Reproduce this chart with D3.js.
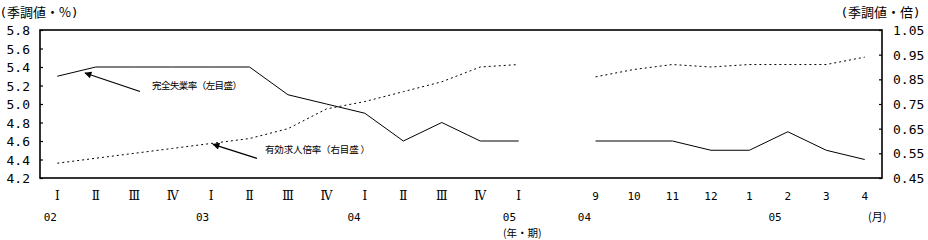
<!DOCTYPE html>
<html>
<head>
<meta charset="utf-8">
<script src="https://cdn.jsdelivr.net/npm/d3@7/dist/d3.min.js"></script>
<style>
  html, body { margin: 0; padding: 0; background: #fff; }
  svg { display: block; }
  text { fill: #000; }
</style>
</head>
<body>
<svg id="chart" width="928" height="240"></svg>
<script>
// ---- data ----
const quarterLabels = ["Ⅰ","Ⅱ","Ⅲ","Ⅳ","Ⅰ","Ⅱ","Ⅲ","Ⅳ","Ⅰ","Ⅱ","Ⅲ","Ⅳ","Ⅰ"];
const monthLabels = ["9","10","11","12","1","2","3","4"];
const unemploymentQ = [5.3,5.4,5.4,5.4,5.4,5.4,5.1,5.0,4.9,4.6,4.8,4.6,4.6];
const unemploymentM = [4.6,4.6,4.6,4.5,4.5,4.7,4.5,4.4];
const jobRatioQ = [0.51,0.53,0.55,0.57,0.59,0.61,0.65,0.73,0.76,0.80,0.84,0.90,0.91];
const jobRatioM = [0.86,0.89,0.91,0.90,0.91,0.91,0.91,0.94];
const leftTicks = [4.2,4.4,4.6,4.8,5.0,5.2,5.4,5.6,5.8];
const rightTicks = [0.45,0.55,0.65,0.75,0.85,0.95,1.05];
const yearLabels = ["02","03","04","05","04","05"];
const yearSlots = [-0.18, 3.78, 7.72, 11.76, 13.71, 18.67];

// ---- layout ----
const L = 40, R = 882, T = 30, B = 178;
const svg = d3.select("#chart");
const FONT_NUM = "'DejaVu Sans Mono', monospace";
const FONT_JP = "'Noto Sans CJK JP', sans-serif";
const FONT_ROMAN = "'DejaVu Serif', 'Liberation Serif', serif";

// slots: 13 quarters, 1 gap, 8 months
const slotIds = [];
quarterLabels.forEach((d,i)=>slotIds.push("q"+i));
slotIds.push("gap");
monthLabels.forEach((d,i)=>slotIds.push("m"+i));

const x = d3.scalePoint().domain(slotIds).range([L, R]).padding(0.45);
const step = x.step();
const xs = s => x(slotIds[0]) + s * step;

const yL = d3.scaleLinear().domain([4.2, 5.8]).range([B, T]);
const yR = d3.scaleLinear().domain([0.45, 1.05]).range([B, T]);

// frame
const frame = svg.append("g").attr("stroke", "#000").attr("stroke-width", 1.6).attr("fill", "none");
frame.append("rect").attr("x", L).attr("y", T).attr("width", R - L).attr("height", B - T);

// left axis ticks (inward)
const leftAxis = d3.axisLeft(yL).tickValues(leftTicks).tickSize(-3).tickPadding(10)
  .tickFormat(d3.format(".1f"));
const gL = svg.append("g").attr("transform", `translate(${L},0)`).call(leftAxis);
gL.select(".domain").remove();
gL.selectAll("line").attr("stroke", "#000").attr("stroke-width", 1.2);
gL.selectAll("text").attr("font-family", FONT_NUM).attr("font-size", 13)
  .attr("x", -10).attr("dy", "0.35em");

const rightAxis = d3.axisRight(yR).tickValues(rightTicks).tickSize(-3).tickPadding(11)
  .tickFormat(d3.format(".2f"));
const gR = svg.append("g").attr("transform", `translate(${R},0)`).call(rightAxis);
gR.select(".domain").remove();
gR.selectAll("line").attr("stroke", "#000").attr("stroke-width", 1.2);
gR.selectAll("text").attr("font-family", FONT_NUM).attr("font-size", 13)
  .attr("x", 11).attr("dy", "0.35em");

// axis titles
function title(xPos, inner) {
  const t = svg.append("text").attr("x", xPos).attr("y", 17).attr("font-size", 13);
  t.append("tspan").attr("font-family", "'DejaVu Sans', sans-serif").text("(");
  t.append("tspan").attr("font-family", FONT_JP).attr("dx", 1).text(inner);
  t.append("tspan").attr("font-family", "'DejaVu Sans', sans-serif").attr("dx", 1).text(")");
}
title(1, "季調値・%");
title(842, "季調値・倍");

// x labels
const xLabels = quarterLabels.map((d,i)=>({id:"q"+i, t:d})).concat(monthLabels.map((d,i)=>({id:"m"+i, t:d})));
svg.append("g").selectAll("text").data(xLabels).join("text")
  .attr("x", d => x(d.id)).attr("y", 196).attr("dy", "0.35em")
  .attr("text-anchor", "middle")
  .attr("font-family", d => d.id[0] === "q" ? FONT_ROMAN : FONT_NUM)
  .attr("font-size", d => d.id[0] === "q" ? 12 : 11)
  .text(d => d.t);

svg.append("g").selectAll("text").data(yearLabels).join("text")
  .attr("x", (d,i) => xs(yearSlots[i])).attr("y", 217).attr("dy", "0.35em")
  .attr("text-anchor", "middle").attr("font-family", FONT_NUM).attr("font-size", 11)
  .text(d => d);

svg.append("text").attr("x", 503).attr("y", 233).attr("dy", "0.35em")
  .attr("font-family", FONT_JP).attr("font-size", 10.5).text("(年・期)");
svg.append("text").attr("x", 868).attr("y", 217).attr("dy", "0.35em")
  .attr("font-family", FONT_JP).attr("font-size", 11).text("(月)");

// lines
const lineL = d3.line().x(d => x(d.id)).y(d => yL(d.v));
const lineR = d3.line().x(d => x(d.id)).y(d => yR(d.v));
const seg = (arr, pre) => arr.map((v,i)=>({id: pre+i, v}));

const lines = svg.append("g").attr("fill", "none").attr("stroke", "#000").attr("stroke-width", 1);
[seg(unemploymentQ,"q"), seg(unemploymentM,"m")].forEach(s =>
  lines.append("path").attr("d", lineL(s)));
[seg(jobRatioQ,"q"), seg(jobRatioM,"m")].forEach(s =>
  lines.append("path").attr("d", lineR(s)).attr("stroke-dasharray", "2,3"));

// annotations
const defs = svg.append("defs");
defs.append("marker").attr("id", "ah").attr("viewBox", "0 0 10 10")
  .attr("refX", 9).attr("refY", 5).attr("markerWidth", 9).attr("markerHeight", 7)
  .attr("markerUnits", "userSpaceOnUse").attr("orient", "auto")
  .append("path").attr("d", "M0,0 L10,5 L0,10 Z").attr("fill", "#000");

const ann = svg.append("g");
ann.append("line").attr("x1", 140).attr("y1", 91.5).attr("x2", 85).attr("y2", 73)
  .attr("stroke", "#000").attr("stroke-width", 1.3).attr("marker-end", "url(#ah)");
ann.append("text").attr("x", 152).attr("y", 86).attr("dy", "0.35em")
  .attr("font-family", FONT_JP).attr("font-size", 9.5)
  .attr("textLength", 90).attr("lengthAdjust", "spacing").text("完全失業率（左目盛）");
ann.append("line").attr("x1", 257).attr("y1", 158.3).attr("x2", 213).attr("y2", 144.3)
  .attr("stroke", "#000").attr("stroke-width", 1.3).attr("marker-end", "url(#ah)");
ann.append("text").attr("x", 265).attr("y", 150).attr("dy", "0.35em")
  .attr("font-family", FONT_JP).attr("font-size", 9.5)
  .attr("textLength", 105).attr("lengthAdjust", "spacing").text("有効求人倍率（右目盛 ）");
</script>
</body>
</html>
